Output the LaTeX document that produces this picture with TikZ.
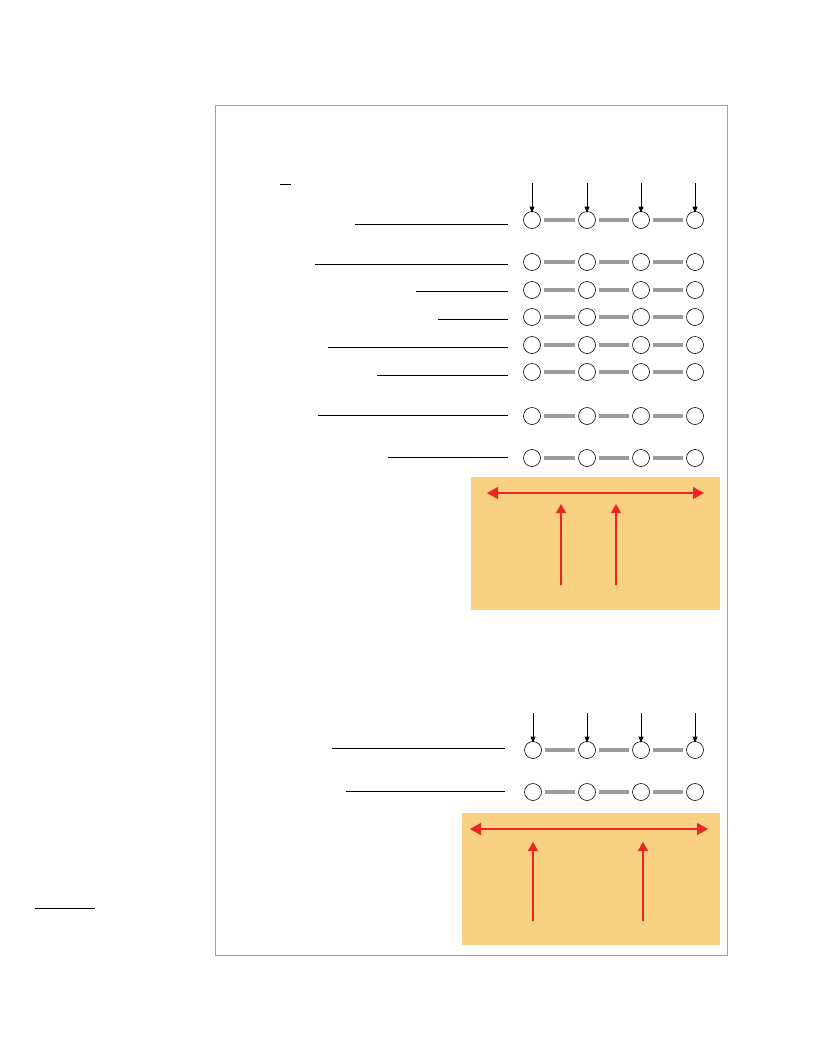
\documentclass[tikz,border=0pt]{standalone}
\usetikzlibrary{arrows.meta}
\definecolor{frameor}{RGB}{232,140,70}
\definecolor{boxfill}{RGB}{250,208,131}
\definecolor{redar}{RGB}{237,37,37}
\definecolor{linkgray}{RGB}{155,155,155}
\begin{document}
\begin{tikzpicture}[x=1pt,y=-1pt,
  dot/.style={circle,draw=black,line width=0.6pt,minimum size=17pt,inner sep=0pt,fill=white},
  link/.style={draw=linkgray,line width=3.2pt,shorten >=3.5pt,shorten <=3.5pt},
  lead/.style={draw=black,line width=0.8pt},
  feed/.style={draw=black,line width=0.7pt,-{Triangle[length=6pt,width=5pt]}},
  redline/.style={draw=redar,line width=1.2pt},
  redtip/.tip={Triangle[length=11pt,width=12pt]},
  redtipsm/.tip={Triangle[length=9pt,width=10pt]},
  box/.style={fill=boxfill,draw=none}]
\useasboundingbox (0,0) rectangle (827,1063);
\draw[frameor,line width=0.8pt] (215,105) rectangle (727,955);
% small mark
\draw[lead] (280,184) -- (291,184);
% section 1
\foreach \c/\x in {1/532,2/587,3/641,4/695}{
  \coordinate (ft\c) at (\x,183);
}
\foreach \r/\y/\lx/\ly in {1/220/355/224,2/262/315/264,3/290/416/291,4/317/438/319,5/345/328/347,6/372/377/375,7/416/318/415,8/458/388/457}{
  \node[dot] (a\r-1) at (532,\y) {};
  \node[dot] (a\r-2) at (587,\y) {};
  \node[dot] (a\r-3) at (641,\y) {};
  \node[dot] (a\r-4) at (695,\y) {};
  \draw[link] (a\r-1) -- (a\r-2);
  \draw[link] (a\r-2) -- (a\r-3);
  \draw[link] (a\r-3) -- (a\r-4);
  \coordinate (ls\r) at (\lx,\ly);
  \coordinate (le\r) at (508,\ly);
  \draw[lead] (ls\r) -- (le\r);
}
\foreach \c in {1,2,3,4}{
  \draw[feed] (ft\c) -- ([yshift=-1.5pt]a1-\c.north);
}
% box 1
\node[box,minimum width=249pt,minimum height=133pt,inner sep=0pt,anchor=north west] (box1) at (471,477) {};
\coordinate (b1l) at (487,493);
\coordinate (b1r) at (704,493);
\draw[redline,{redtip}-{redtip}] (b1l) -- (b1r);
\coordinate (b1u1) at (561,585);
\coordinate (b1t1) at (561,504);
\coordinate (b1u2) at (616,585);
\coordinate (b1t2) at (616,504);
\draw[redline,-{redtipsm}] (b1u1) -- (b1t1);
\draw[redline,-{redtipsm}] (b1u2) -- (b1t2);
% section 2
\foreach \c/\x in {1/533,2/587,3/641,4/695}{
  \coordinate (gt\c) at (\x,713);
}
\foreach \r/\y/\lx/\ly in {1/750/332/748,2/792/346/791}{
  \node[dot] (b\r-1) at (533,\y) {};
  \node[dot] (b\r-2) at (587,\y) {};
  \node[dot] (b\r-3) at (641,\y) {};
  \node[dot] (b\r-4) at (695,\y) {};
  \draw[link] (b\r-1) -- (b\r-2);
  \draw[link] (b\r-2) -- (b\r-3);
  \draw[link] (b\r-3) -- (b\r-4);
  \coordinate (ms\r) at (\lx,\ly);
  \coordinate (me\r) at (505,\ly);
  \draw[lead] (ms\r) -- (me\r);
}
\foreach \c in {1,2,3,4}{
  \draw[feed] (gt\c) -- ([yshift=-1.5pt]b1-\c.north);
}
% box 2
\node[box,minimum width=258pt,minimum height=132pt,inner sep=0pt,anchor=north west] (box2) at (462,813) {};
\coordinate (b2l) at (470,829);
\coordinate (b2r) at (708,829);
\draw[redline,{redtip}-{redtip}] (b2l) -- (b2r);
\coordinate (b2u1) at (533,921);
\coordinate (b2t1) at (533,842);
\coordinate (b2u2) at (643,921);
\coordinate (b2t2) at (643,842);
\draw[redline,-{redtipsm}] (b2u1) -- (b2t1);
\draw[redline,-{redtipsm}] (b2u2) -- (b2t2);
% footnote rule
\coordinate (fn1) at (35,908);
\coordinate (fn2) at (95,908);
\draw[lead] (fn1) -- (fn2);
\end{tikzpicture}
\end{document}
